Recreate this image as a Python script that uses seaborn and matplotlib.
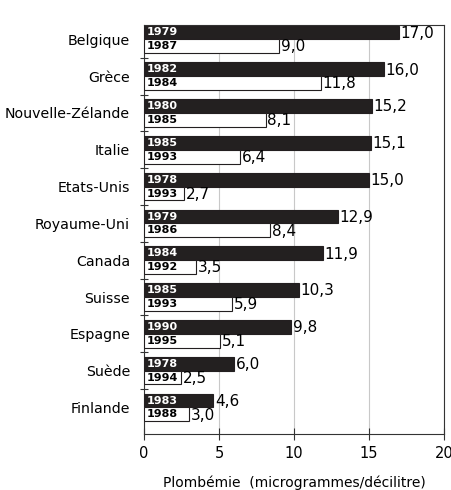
import numpy as np
import pandas as pd
import matplotlib
matplotlib.use("Agg")
import matplotlib.pyplot as plt
import seaborn as sns

pays = ["Belgique", "Grèce", "Nouvelle-Zélande", "Italie", "Etats-Unis",
        "Royaume-Uni", "Canada", "Suisse", "Espagne", "Suède", "Finlande"]
annee_1 = [1979, 1982, 1980, 1985, 1978, 1979, 1984, 1985, 1990, 1978, 1983]
valeur_1 = [17.0, 16.0, 15.2, 15.1, 15.0, 12.9, 11.9, 10.3, 9.8, 6.0, 4.6]
annee_2 = [1987, 1984, 1985, 1993, 1993, 1986, 1992, 1993, 1995, 1994, 1988]
valeur_2 = [9.0, 11.8, 8.1, 6.4, 2.7, 8.4, 3.5, 5.9, 5.1, 2.5, 3.0]

df = pd.DataFrame({
    "pays": pays * 2,
    "valeur": valeur_1 + valeur_2,
    "annee": annee_1 + annee_2,
    "serie": ["avant"] * len(pays) + ["apres"] * len(pays),
})

sns.set_style("white")
plt.rcParams["font.family"] = ["DejaVu Sans"]
plt.rcParams["text.color"] = "black"
plt.rcParams["axes.labelcolor"] = "black"
dark = "#231f20"

fig = plt.figure(figsize=(4.52, 4.90), dpi=100)
ax = fig.add_axes([144 / 452, 1 - 434 / 490, 300 / 452, 409 / 490])

sns.barplot(data=df, y="pays", x="valeur", hue="serie", orient="h",
            palette=[dark, "white"], edgecolor=dark, linewidth=0.8,
            width=0.75, dodge=True, legend=False, ax=ax, zorder=3)

ax.set_xlim(0, 20)
ax.set_ylim(10.72, -0.39)
ax.set_xticks([0, 5, 10, 15, 20])
ax.xaxis.grid(True, color="#c8c8c8", linewidth=0.8, zorder=0)
ax.set_axisbelow(True)

for s in ax.spines.values():
    s.set_color("#333333")
    s.set_linewidth(0.8)

ax.tick_params(axis="x", direction="inout", length=8, width=0.8,
               labelsize=10.5, pad=5, color="#333333", labelcolor="black",
               bottom=True)
ax.tick_params(axis="y", which="major", length=0, labelsize=10.2, pad=10,
               labelcolor="black")
ax.set_yticks(np.arange(0.5, 10, 1), minor=True)
ax.tick_params(axis="y", which="minor", direction="inout", length=6,
               width=0.8, color="#333333", left=True)
ax.set_ylabel("")
ax.set_xlabel("Plombémie  (microgrammes/décilitre)", fontsize=10, labelpad=10)

bars = ax.patches
n = len(pays)
for i, bar in enumerate(bars[:2 * n]):
    first = i < n
    yr = annee_1[i] if first else annee_2[i - n]
    val = valeur_1[i] if first else valeur_2[i - n]
    yc = bar.get_y() + bar.get_height() / 2
    ax.text(0.2, yc, str(yr), ha="left", va="center", fontsize=8,
            fontweight="bold", color="white" if first else "black", zorder=5)
    ax.text(val + 0.12, yc + 0.02, f"{val:.1f}".replace(".", ","),
            ha="left", va="center", fontsize=11, color="black", zorder=5)

fig.savefig("out.png", dpi=100)
